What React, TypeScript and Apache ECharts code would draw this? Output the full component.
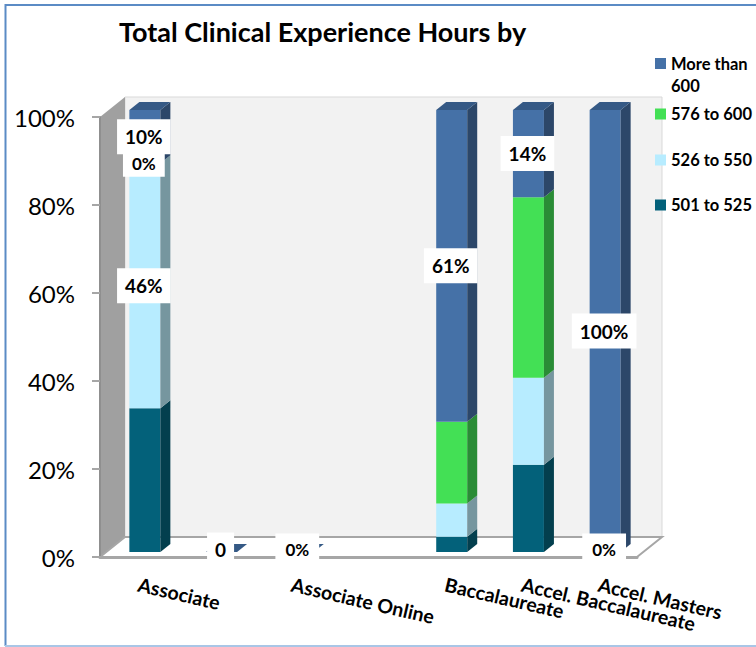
import React, { useEffect, useRef } from "react";
import * as echarts from "echarts";

const FONT = "Lato";
const TITLE = "Total Clinical Experience Hours by";
const categories = ["Associate", "", "Associate Online", "", "Baccalaureate", "Accel. Baccalaureate", "Accel. Masters"];
const yTicks = [0, 20, 40, 60, 80, 100];

// raw shares; the chart is a 100% stacked column
const seriesNames = ["501 to 525", "526 to 550", "576 to 600", "More than 600"];
const v501 = [27, 0, 0, 0, 3, 14, 0];
const v526 = [46, 0, 0, 0, 6.5, 14, 0];
const v576 = [0, 0, 0, 0, 16, 29, 0];
const vMore = [10, 0, 0, 0, 61, 14, 100];
const hasBar = [1, 1, 1, 0, 1, 1, 1];

const l501 = ["", "", "", "", "", "", "0%"];
const l526 = ["46%", "", "", "", "", "", ""];
const l576 = ["0%", "", "", "", "", "", ""];
const lMore = ["10%", "0", "0%", "", "61%", "14%", "100%"];

const frontColors = ["#03617a", "#b7ecff", "#43e055", "#4571a7"];
const sideColors = ["#033f4e", "#76969f", "#2a8c36", "#2c4769"];
const topColors = ["#034c60", "#93bccb", "#35b344", "#355985"];

const allValues = [v501, v526, v576, vMore];
const allLabels = [l501, l526, l576, lMore];

function stacked(s: number) {
  return categories.map((_, c) => {
    const total = allValues.reduce((a, arr) => a + arr[c], 0);
    let below = 0;
    for (let i = 0; i < s; i++) below += allValues[i][c];
    const k = total > 0 ? 100 / total : 0;
    return [c, below * k, (below + allValues[s][c]) * k];
  });
}

const HALF = 15.5;
const DX = 10;
const DY = 8;

function renderBar(s: number) {
  return (params: any, api: any) => {
    const c = api.value(0);
    if (!hasBar[c]) return { type: "group", children: [] };
    const [cx, y0] = api.coord([c, api.value(1)]);
    const [, y1] = api.coord([c, api.value(2)]);
    const l = cx - HALF;
    const r = cx + HALF;
    const children: any[] = [];
    if (y0 - y1 > 0.01) {
      children.push({
        type: "rect",
        shape: { x: l, y: y1, width: r - l, height: y0 - y1 },
        style: { fill: frontColors[s] },
      });
      children.push({
        type: "polygon",
        shape: { points: [[r, y0], [r + DX, y0 - DY], [r + DX, y1 - DY], [r, y1]] },
        style: { fill: sideColors[s] },
      });
    }
    if (s === 3) {
      children.push({
        type: "polygon",
        shape: { points: [[l, y1], [l + DX, y1 - DY], [r + DX, y1 - DY], [r, y1]] },
        style: { fill: topColors[s] },
      });
    }
    return { type: "group", children };
  };
}

function labelItems() {
  const out: any[] = [];
  allLabels.forEach((arr, s) => {
    const st = stacked(s);
    arr.forEach((t, c) => {
      if (t) out.push({ c, y: (st[c][1] + st[c][2]) / 2, t });
    });
  });
  return out;
}

export default function App() {
  const ref = useRef<HTMLDivElement>(null);
  useEffect(() => {
    const chart = echarts.init(ref.current as HTMLDivElement, null, { renderer: "svg" });
    const items = labelItems();
    const axisGray = "#a6a6a6";
    const legendTops = [52.5, 103, 149, 194];
    const legendOrder = [3, 2, 1, 0];
    chart.setOption({
      animation: false,
      backgroundColor: "#ffffff",
      textStyle: { fontFamily: FONT },
      title: {
        text: TITLE,
        left: 119,
        top: 18,
        padding: 0,
        textStyle: { fontFamily: FONT, fontWeight: "bold", fontSize: 27, color: "#000000" },
      },
      legend: legendOrder.map((s, i) => ({
        data: [seriesNames[s]],
        orient: "vertical",
        left: 655,
        top: legendTops[i],
        padding: 0,
        selectedMode: false,
        itemWidth: 11,
        itemHeight: i === 0 ? 33 : 11,
        icon: i === 0 ? "path://M0 0H11V11H0ZM0 33H11" : "rect",
        formatter: i === 0 ? () => "More than\n600" : undefined,
        textStyle: { fontFamily: FONT, fontWeight: "bold", fontSize: 16.5, lineHeight: 22, color: "#000000" },
      })),
      grid: [
        { left: 100, top: 117, width: 537, height: 440 },
        { left: 106.5, top: 110, width: 537, height: 442 },
      ],
      xAxis: [
        {
          type: "category",
          gridIndex: 0,
          data: categories,
          z: 1,
          axisLine: { show: true, lineStyle: { color: axisGray, width: 3 } },
          axisTick: { show: false },
          axisLabel: {
            interval: 0,
            rotate: -13,
            margin: 27,
            hideOverlap: false,
            fontFamily: FONT,
            fontWeight: "bold",
            fontSize: 19.5,
            color: "#000000",
          },
        },
        { type: "category", gridIndex: 1, data: categories, show: false },
      ],
      yAxis: [
        {
          type: "value",
          gridIndex: 0,
          min: yTicks[0],
          max: yTicks[yTicks.length - 1],
          interval: yTicks[1] - yTicks[0],
          z: 1,
          splitLine: { show: false },
          axisLine: { show: true, lineStyle: { color: "#8f8f8f", width: 2 } },
          axisTick: { show: true, length: 8, lineStyle: { color: axisGray, width: 2 } },
          axisLabel: {
            margin: 25,
            formatter: "{value}%",
            fontFamily: FONT,
            fontSize: 24,
            color: "#000000",
          },
        },
        { type: "value", gridIndex: 1, min: 0, max: 100, show: false, splitLine: { show: false } },
      ],
      graphic: {
        elements: [
          {
            type: "polygon",
            z: 0,
            shape: { points: [[125, 97], [662, 97], [662, 537], [125, 537]] },
            style: { fill: "#f2f2f2", stroke: "#d9d9d9", lineWidth: 1 },
          },
          {
            type: "polygon",
            z: 0,
            shape: { points: [[100, 117], [125, 97], [125, 537], [100, 557]] },
            style: { fill: "#a0a0a0" },
          },
          {
            type: "polygon",
            z: 0,
            shape: { points: [[100, 557], [125, 537], [662, 537], [637, 557]] },
            style: { fill: "#ffffff" },
          },
          {
            type: "polyline",
            z: 0,
            shape: { points: [[100, 557], [125, 537], [662, 537], [637, 557]] },
            style: { stroke: axisGray, lineWidth: 2, fill: "none" },
          },
          {
            type: "polyline",
            z: 5,
            shape: { points: [[5.5, 646], [5.5, 5], [756, 5]] },
            style: { stroke: "#5b8bc5", lineWidth: 2, fill: "none" },
          },
          {
            type: "line",
            z: 5,
            shape: { x1: 5, y1: 646, x2: 756, y2: 646 },
            style: { stroke: "#a9c6e6", lineWidth: 2 },
          },
        ],
      },
      series: [
        ...seriesNames.map((name, s) => ({
          type: "custom",
          name,
          xAxisIndex: 1,
          yAxisIndex: 1,
          z: 2 + s,
          clip: false,
          itemStyle: { color: frontColors[s] },
          data: stacked(s),
          renderItem: renderBar(s),
        })),
        {
          type: "custom",
          name: "labels",
          xAxisIndex: 1,
          yAxisIndex: 1,
          z: 10,
          clip: false,
          silent: true,
          data: items.map((d) => [d.c, d.y]),
          renderItem: (params: any, api: any) => {
            const d = items[params.dataIndex];
            const [x, y] = api.coord([d.c, d.y]);
            const small = d.t === "0%";
            const atBase = d.y === 0;
            // boxes on the floor reach further up than down
            const pad = atBase
              ? [14, small ? 10 : 8, 0, small ? 10 : 8]
              : small
                ? [5, 9]
                : [8, 8];
            const shift = atBase ? -3 : 0;
            return {
              type: "text",
              style: {
                text: d.t,
                x: x - 1,
                y: y + shift,
                align: "center",
                verticalAlign: "middle",
                fontFamily: FONT,
                fontWeight: "bold",
                fontSize: small ? 17 : 19,
                fill: "#000000",
                backgroundColor: "#ffffff",
                padding: pad,
              },
            };
          },
        },
      ],
    });
    return () => chart.dispose();
  }, []);
  return (
    <div
      ref={ref}
      style={{ position: "fixed", left: 0, top: 0, width: 756, height: 647, background: "#fff" }}
    />
  );
}
